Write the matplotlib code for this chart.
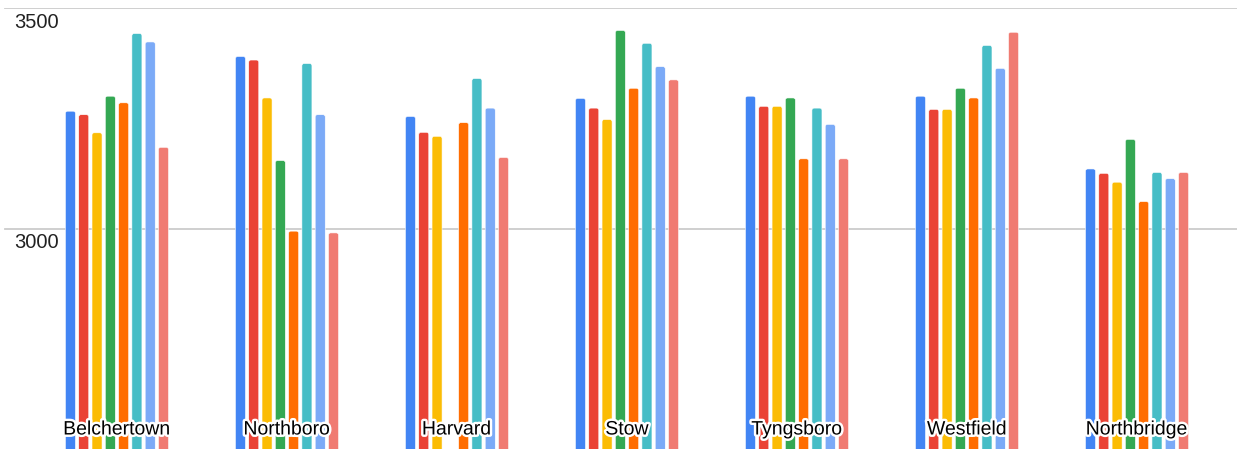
import numpy as np
import matplotlib.pyplot as plt
import matplotlib.patheffects as pe
from matplotlib.patches import FancyBboxPatch

plt.rcParams['font.family'] = ['Liberation Sans', 'DejaVu Sans']

# towns along the x axis
towns = ["Belchertown", "Northboro", "Harvard", "Stow",
         "Tyngsboro", "Westfield", "Northbridge"]

# eight series per town (nan = no value)
s1 = [3266, 3390, 3254, 3295, 3300, 3300, 3135]
s2 = [3258, 3382, 3218, 3273, 3277, 3270, 3125]
s3 = [3217, 3296, 3209, 3247, 3277, 3270, 3105]
s4 = [3300, 3154, np.nan, 3449, 3296, 3318, 3202]
s5 = [3285, 2994, 3240, 3318, 3158, 3296, 3061]
s6 = [3442, 3374, 3340, 3420, 3273, 3415, 3127]
s7 = [3423, 3258, 3273, 3367, 3236, 3363, 3113]
s8 = [3184, 2990, 3161, 3337, 3158, 3445, 3127]
series = [s1, s2, s3, s4, s5, s6, s7, s8]

colors = ["#4285F4", "#EA4335", "#FBBC04", "#34A853",
          "#FF6D01", "#46BDC6", "#7BAAF7", "#F07B72"]

y_ticks = [3000, 3500]
y_min, y_max = 2500, 3500

fig = plt.figure(figsize=(12.37, 4.49), dpi=100)
ax = fig.add_axes([0, 0, 1, 441 / 449])

x = np.arange(len(towns))
pitch = 0.0782
width = 0.059
base = 2300

ax.set_xlim(-0.688, 6.588)
ax.set_ylim(y_min, y_max)

# aspect between y units and x units per pixel, for the rounded bar tops
px_x = 7.276 / 1237
px_y = (y_max - y_min) / 441
aspect = px_y / px_x

for k, (vals, c) in enumerate(zip(series, colors)):
    offs = x + (k - 3.5) * pitch
    heights = np.array(vals, dtype=float) - base
    bars = ax.bar(offs, heights, width=width, bottom=base, color=c)
    for r in list(bars.patches):
        if np.isnan(r.get_height()):
            r.remove()
            continue
        fb = FancyBboxPatch((r.get_x(), r.get_y()), r.get_width(), r.get_height(),
                            boxstyle="round,pad=0,rounding_size=%f" % (2.2 * px_x),
                            mutation_aspect=aspect, facecolor=c,
                            edgecolor="white", linewidth=0.4, zorder=2)
        ax.add_patch(fb)
        r.remove()

# gridlines and their labels drawn below the line
for t in y_ticks:
    ax.axhline(t, xmin=5 / 1237, xmax=1, color="#cccccc", linewidth=1.3, zorder=1)
    ax.text(-0.688 + 14 * px_x, t - 5 * px_y, str(t), fontsize=14.5,
            ha="left", va="top", color="#222222")

# town names at the foot of each group
for xi, name in zip(x, towns):
    ax.text(xi, y_min + 19 * px_y, name, fontsize=14, ha="center", va="center",
            color="black", zorder=5,
            path_effects=[pe.withStroke(linewidth=3.5, foreground="white")])

ax.axis("off")

plt.savefig("out.png", dpi=100)
